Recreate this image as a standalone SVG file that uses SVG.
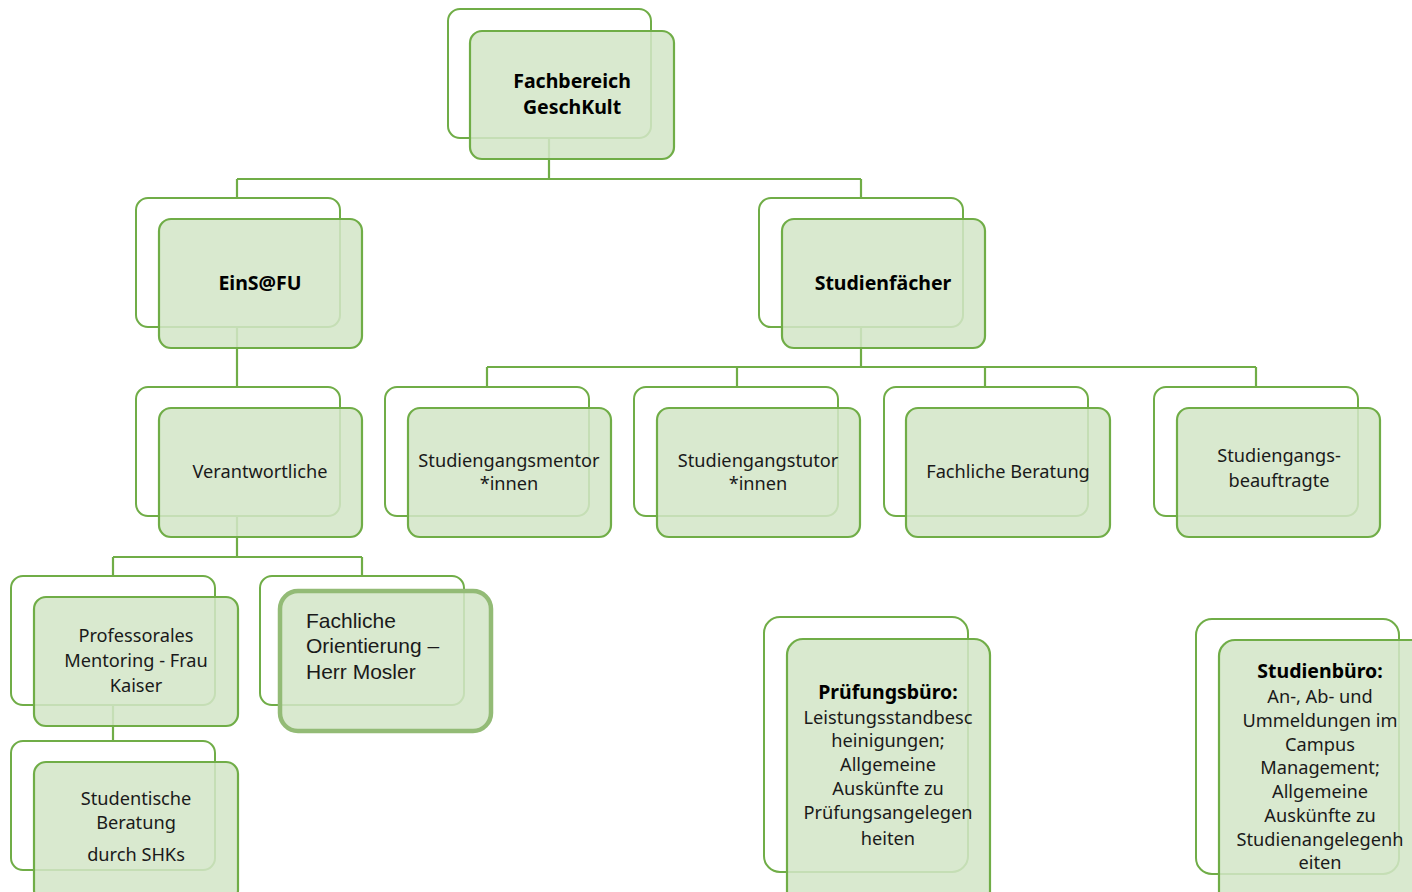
<svg xmlns="http://www.w3.org/2000/svg" width="1412" height="892" viewBox="0 0 1412 892">
<style>
.back{fill:none;stroke:#70ad47;stroke-width:2}
.front{fill:#d3e5c7;fill-opacity:0.86;stroke:#70ad47;stroke-width:2.2}
.thick{fill:#d3e5c7;fill-opacity:0.86;stroke:#93bb76;stroke-width:4.5}
.conn{fill:none;stroke:#70ad47;stroke-width:2.2}
text{font-family:"Noto Sans","Open Sans",sans-serif;font-size:18.2px;fill:#1a1a1a;text-anchor:middle}
.b{font-weight:bold;font-size:19.5px;fill:#000000}
.arial{font-family:"Liberation Sans",Arial,sans-serif;font-size:21px;text-anchor:start}
</style>
<rect width="1412" height="892" fill="#ffffff"/>
<g id="connectors">
<path class="conn" d="M549 138V179M237 179H861M237 179V198M861 179V198"/>
<path class="conn" d="M237 327V387"/>
<path class="conn" d="M861 327V367M487 367H1256M487 367V387M737 367V387M985 367V387M1256 367V387"/>
<path class="conn" d="M237 516V557M113 557H362M113 557V576M362 557V576"/>
<path class="conn" d="M113 705V741"/>
</g>
<g id="n-fachbereich">
<rect class="back" x="448" y="9" width="203" height="129" rx="12"/>
<rect class="front" x="470" y="31" width="204" height="128" rx="12"/>
<text class="b" x="572" y="88">Fachbereich</text>
<text class="b" x="572" y="114">GeschKult</text>
</g>
<g id="n-einsfu">
<rect class="back" x="136" y="198" width="204" height="129" rx="12"/>
<rect class="front" x="159" y="219" width="203" height="129" rx="12"/>
<text class="b" x="260" y="290">EinS@FU</text>
</g>
<g id="n-studienfaecher">
<rect class="back" x="759" y="198" width="204" height="129" rx="12"/>
<rect class="front" x="782" y="219" width="203" height="129" rx="12"/>
<text class="b" x="883" y="290">Studienfächer</text>
</g>
<g id="n-verantwortliche">
<rect class="back" x="136" y="387" width="204" height="129" rx="12"/>
<rect class="front" x="159" y="408" width="203" height="129" rx="12"/>
<text x="260" y="478">Verantwortliche</text>
</g>
<g id="n-mentor">
<rect class="back" x="385" y="387" width="204" height="129" rx="12"/>
<rect class="front" x="408" y="408" width="203" height="129" rx="12"/>
<text x="509" y="467">Studiengangsmentor</text>
<text x="509" y="490">*innen</text>
</g>
<g id="n-tutor">
<rect class="back" x="634" y="387" width="204" height="129" rx="12"/>
<rect class="front" x="657" y="408" width="203" height="129" rx="12"/>
<text x="758" y="467">Studiengangstutor</text>
<text x="758" y="490">*innen</text>
</g>
<g id="n-fachberatung">
<rect class="back" x="884" y="387" width="204" height="129" rx="12"/>
<rect class="front" x="906" y="408" width="204" height="129" rx="12"/>
<text x="1008" y="478">Fachliche Beratung</text>
</g>
<g id="n-beauftragte">
<rect class="back" x="1154" y="387" width="204" height="129" rx="12"/>
<rect class="front" x="1177" y="408" width="203" height="129" rx="12"/>
<text x="1279" y="462">Studiengangs-</text>
<text x="1279" y="487">beauftragte</text>
</g>
<g id="n-professorales">
<rect class="back" x="11" y="576" width="204" height="129" rx="12"/>
<rect class="front" x="34" y="597" width="204" height="129" rx="12"/>
<text x="136" y="642">Professorales</text>
<text x="136" y="667">Mentoring - Frau</text>
<text x="136" y="692">Kaiser</text>
</g>
<g id="n-orientierung">
<rect class="back" x="260" y="576" width="204" height="129" rx="12"/>
<rect class="thick" x="280" y="591" width="211" height="140" rx="18"/>
<text class="arial" x="306" y="628">Fachliche</text>
<text class="arial" x="306" y="653">Orientierung –</text>
<text class="arial" x="306" y="679">Herr Mosler</text>
</g>
<g id="n-studentische">
<rect class="back" x="11" y="741" width="204" height="129" rx="12"/>
<rect class="front" x="34" y="762" width="204" height="140" rx="12"/>
<text x="136" y="805">Studentische</text>
<text x="136" y="829">Beratung</text>
<text x="136" y="861">durch SHKs</text>
</g>
<g id="n-pruefungsbuero">
<rect class="back" x="764" y="617" width="204" height="255" rx="16"/>
<rect class="front" x="787" y="639" width="203" height="270" rx="16"/>
<text class="b" x="888" y="699">Prüfungsbüro:</text>
<text x="888" y="724">Leistungsstandbesc</text>
<text x="888" y="747">heinigungen;</text>
<text x="888" y="771">Allgemeine</text>
<text x="888" y="795">Auskünfte zu</text>
<text x="888" y="819">Prüfungsangelegen</text>
<text x="888" y="845">heiten</text>
</g>
<g id="n-studienbuero">
<rect class="back" x="1196" y="619" width="203" height="255" rx="16"/>
<rect class="front" x="1219" y="640" width="210" height="270" rx="16"/>
<text class="b" x="1320" y="678">Studienbüro:</text>
<text x="1320" y="703">An-, Ab- und</text>
<text x="1320" y="727">Ummeldungen im</text>
<text x="1320" y="751">Campus</text>
<text x="1320" y="774">Management;</text>
<text x="1320" y="798">Allgemeine</text>
<text x="1320" y="822">Auskünfte zu</text>
<text x="1320" y="846">Studienangelegenh</text>
<text x="1320" y="869">eiten</text>
</g>
</svg>
